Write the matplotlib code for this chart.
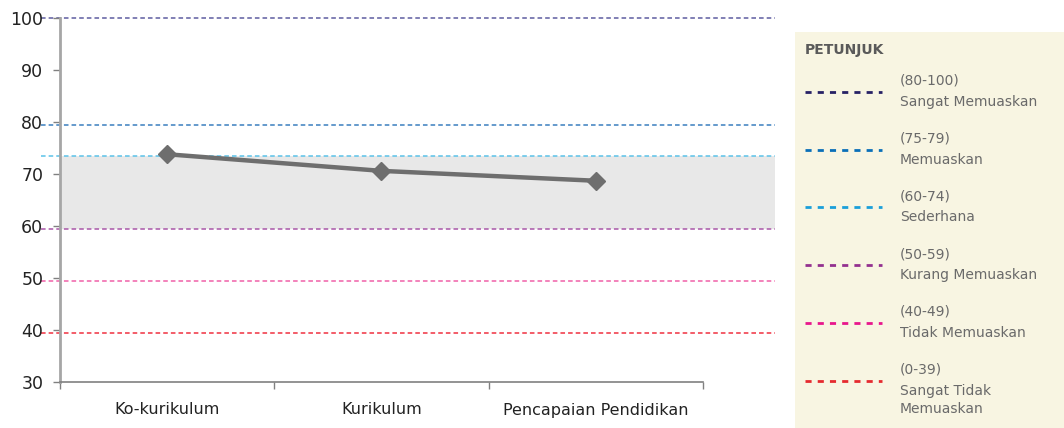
import matplotlib
matplotlib.use('Agg')
from matplotlib import pyplot as plt
from matplotlib.patches import Rectangle
from matplotlib.lines import Line2D

# data
kategori = ['Ko-kurikulum', 'Kurikulum', 'Pencapaian Pendidikan']
nilai = [73.8, 70.6, 68.7]

# garis sempadan tahap
had = [100, 79.5, 73.5, 59.5, 49.5, 39.5]
warna_garis = ['#5e5ca0', '#3a7fbf', '#5bc2e8', '#a956a8', '#f060a8', '#f03040']
band = (59.5, 73.5)

# petunjuk
tajuk_petunjuk = 'PETUNJUK'
julat = ['(80-100)', '(75-79)', '(60-74)', '(50-59)', '(40-49)', '(0-39)']
label_petunjuk = ['Sangat Memuaskan', 'Memuaskan', 'Sederhana',
                  'Kurang Memuaskan', 'Tidak Memuaskan', 'Sangat Tidak\nMemuaskan']
warna_petunjuk = ['#272165', '#0a6fb8', '#1a9fda', '#93308f', '#e8168c', '#e52a2f']

plt.rcParams['font.family'] = ['DejaVu Sans']

W, H = 1064, 428
fig = plt.figure(figsize=(W / 100, H / 100), dpi=100)
ax = fig.add_axes([60 / W, (H - 382) / H, (775 - 60) / W, (382 - 18) / H])

x = list(range(len(kategori)))
ax.set_xlim(-0.5, 2.836)
ax.set_ylim(30, 100)

ax.axhspan(band[0], band[1], xmin=0, xmax=1, color='#e8e8e8', zorder=0, lw=0)
for h, c in zip(had, warna_garis):
    ax.plot([-0.59, 2.836], [h, h], color=c, lw=1.1,
            linestyle=(0, (3, 2)), clip_on=False, zorder=1)

ax.plot(x, nilai, color='#6e6e6e', lw=3.2, marker='D', markersize=9,
        zorder=3, solid_capstyle='round')

for s in ['top', 'right']:
    ax.spines[s].set_visible(False)
ax.spines['left'].set_color('#a6a6a6')
ax.spines['left'].set_linewidth(2)
ax.spines['bottom'].set_color('#808080')
ax.spines['bottom'].set_linewidth(1.2)
ax.spines['bottom'].set_bounds(-0.5, 2.5)

ax.set_yticks(range(30, 101, 10))
ax.tick_params(axis='y', length=5, width=1, color='#808080', labelsize=12.5,
               labelcolor='#222222', pad=7)
ax.set_xticks([-0.5, 0.5, 1.5, 2.5])
ax.set_xticklabels([])
ax.tick_params(axis='x', length=5, width=1, color='#808080')
for xi, k in zip(x, kategori):
    ax.annotate(k, xy=(xi, 30), xycoords='data', xytext=(0, -28),
                textcoords='offset pixels', ha='center', va='center',
                fontsize=11.5, color='#222222', annotation_clip=False)

# panel petunjuk
fig.patches.append(Rectangle((795 / W, 0), (W - 795) / W, (H - 32) / H,
                             transform=fig.transFigure, facecolor='#f8f5e2',
                             edgecolor='none', zorder=0))
fig.text(805 / W, 1 - 50 / H, tajuk_petunjuk, fontsize=10, fontweight='bold',
         color='#5a5a5a', va='center', ha='left')
y0, step = 92, 57.7
for i, (j, lab, c) in enumerate(zip(julat, label_petunjuk, warna_petunjuk)):
    yy = y0 + i * step
    fig.lines.append(Line2D([805 / W, 882 / W], [1 - yy / H, 1 - yy / H],
                            transform=fig.transFigure, color=c, lw=2,
                            linestyle=(0, (2.2, 2.2))))
    fig.text(900 / W, 1 - (yy - 11) / H, j, fontsize=10, color='#6a6a6a',
             va='center', ha='left')
    fig.text(900 / W, 1 - (yy + 3) / H, lab, fontsize=10, color='#6a6a6a',
             va='top', ha='left', linespacing=1.45)

fig.savefig('out.png', dpi=100)
